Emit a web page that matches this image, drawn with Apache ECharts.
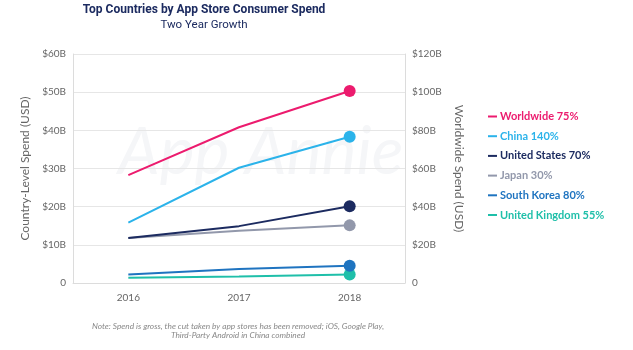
<!DOCTYPE html>
<html>
<head>
<meta charset="utf-8">
<script src="https://cdn.jsdelivr.net/npm/echarts@6/dist/echarts.min.js"></script>
<style>
  html, body { margin: 0; padding: 0; background: #fff; }
  #chart { width: 633px; height: 350px; }
</style>
</head>
<body>
<div id="chart"></div>
<script>
  // data (billions USD)
  var years = ['2016', '2017', '2018'];
  var worldwide = [56.5, 81.6, 100.6];   // right axis
  var china = [15.8, 30.2, 38.3];
  var unitedStates = [11.8, 14.9, 20.1];
  var japan = [11.8, 13.7, 15.1];
  var southKorea = [2.2, 3.7, 4.5];
  var unitedKingdom = [1.4, 1.7, 2.2];
  var names = ['Worldwide', 'China', 'United States', 'Japan', 'South Korea', 'United Kingdom'];
  var growth = ['75%', '140%', '70%', '30%', '80%', '55%'];
  var colors = ['#ec1b6e', '#2bb3ea', '#1c2b60', '#9298ab', '#1f74c0', '#1fbfa9'];

  var chart = echarts.init(document.getElementById('chart'));
  var font = 'Lato, "Open Sans", sans-serif';

  function money(v) { return v === 0 ? '0' : '$' + v + 'B'; }

  var allData = [worldwide, china, unitedStates, japan, southKorea, unitedKingdom];
  var series = names.map(function (n, i) {
    return {
      name: n,
      type: 'line',
      yAxisIndex: i === 0 ? 1 : 0,
      data: allData[i],
      color: colors[i],
      lineStyle: { width: 2 },
      symbol: 'circle',
      symbolSize: function (v, p) { return p.dataIndex === 2 ? 12 : 0; },
      showAllSymbol: true,
      z: 10 - i
    };
  });

  chart.setOption({
    animation: false,
    textStyle: { fontFamily: font },
    title: [{
      text: 'Top Countries by App Store Consumer Spend',
      subtext: 'Two Year Growth',
      left: 199, top: -1, textAlign: 'center', itemGap: 3,
      textStyle: { fontSize: 12, fontWeight: 'bold', color: '#1c2b60', fontFamily: 'Roboto, sans-serif' },
      subtextStyle: { fontSize: 11.5, color: '#1c2b60', fontFamily: 'Roboto, sans-serif' }
    }],
    legend: {
      orient: 'vertical',
      left: 483, top: 106,
      icon: 'rect', itemWidth: 9, itemHeight: 2, itemGap: 8.7,
      data: names.map(function (n, i) {
        return { name: n, textStyle: { color: colors[i] } };
      }),
      formatter: function (n) { return n + ' ' + growth[names.indexOf(n)]; },
      textStyle: { fontSize: 11, fontWeight: 'bold', fontFamily: font, padding: [0, 0, 0, -2] },
      selectedMode: false
    },
    grid: { left: 73, right: 228, top: 54, bottom: 67 },
    xAxis: {
      type: 'category',
      data: years,
      boundaryGap: true,
      axisLine: { lineStyle: { color: '#dcdcdc' } },
      axisTick: { show: false },
      axisLabel: { color: '#666', fontSize: 10, margin: 10 }
    },
    yAxis: [{
      type: 'value', min: 0, max: 60, interval: 10,
      name: 'Country-Level Spend (USD)',
      nameLocation: 'middle', nameGap: 42, nameRotate: 90,
      nameTextStyle: { color: '#666', fontSize: 12 },
      axisLine: { show: true, lineStyle: { color: '#dcdcdc' } },
      axisTick: { show: false },
      axisLabel: { color: '#666', fontSize: 10, formatter: money, margin: 7 },
      splitLine: { lineStyle: { color: '#e6e6e6' } }
    }, {
      type: 'value', min: 0, max: 120, interval: 20,
      name: 'Worldwide Spend (USD)',
      nameLocation: 'middle', nameGap: 48, nameRotate: -90,
      nameTextStyle: { color: '#666', fontSize: 12 },
      axisLine: { show: true, lineStyle: { color: '#dcdcdc' } },
      axisTick: { show: false },
      axisLabel: { color: '#666', fontSize: 10, formatter: money, margin: 7 },
      splitLine: { show: false }
    }],
    graphic: [{
      type: 'text', x: 118, y: 120, z: 0,
      style: {
        text: 'App Annie', fill: '#f5f6f8',
        font: 'italic 66px ' + font
      }
    }, {
      type: 'text', x: 238, y: 322,
      style: {
        text: 'Note: Spend is gross, the cut taken by app stores has been removed; iOS, Google Play,\nThird-Party Android in China combined',
        fill: '#888', font: 'italic 8.3px ' + font, align: 'center', lineHeight: 9
      }
    }],
    series: series
  });
</script>
</body>
</html>
